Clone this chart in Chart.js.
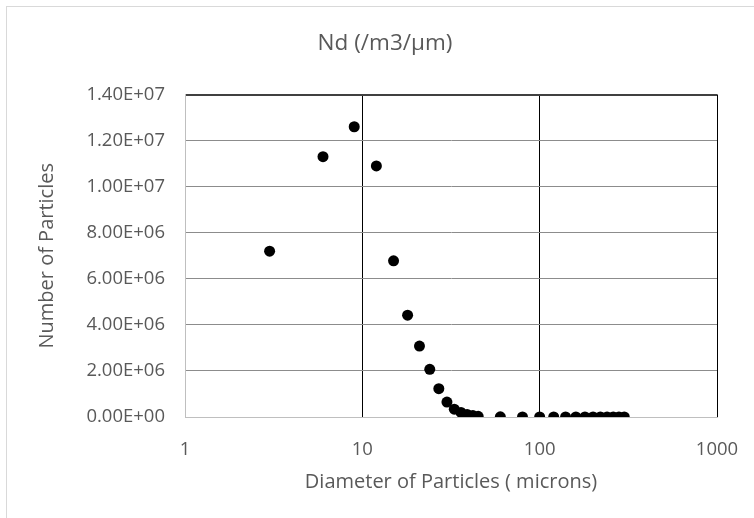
<!DOCTYPE html>
<html>
<head>
<meta charset="utf-8">
<script src="https://cdn.jsdelivr.net/npm/chart.js@4"></script>
<style>
  html, body { margin: 0; padding: 0; background: #fff; }
  canvas { display: block; }
</style>
</head>
<body>
<canvas id="ndChart" width="754" height="518"></canvas>
<script>
const diameters = [3, 6, 9, 12, 15, 18, 21, 24, 27, 30, 33, 36, 39, 42, 45, 60, 80, 100, 120, 140, 160, 180, 200, 220, 240, 260, 280, 300];
const counts = [7.2e6, 1.13e7, 1.26e7, 1.09e7, 6.78e6, 4.42e6, 3.08e6, 2.07e6, 1.23e6, 6.5e5, 3.4e5, 2.0e5, 1.1e5, 6e4, 3e4, 8e3, 2e3, 5e2, 1e2, 50, 20, 10, 5, 2, 1, 0, 0, 0];
const xTicks = [1, 10, 100, 1000];

const textColor = '#595959';
const fontFamily = '"Open Sans", sans-serif';

function sci(v) {
  const [m, e] = Number(v).toExponential(2).split('e');
  const sign = e[0] === '-' ? '-' : '+';
  return m + 'E' + sign + e.replace(/[+-]/, '').padStart(2, '0');
}

// light outer frame like the Excel chart box
const frame = {
  id: 'frame',
  beforeDraw(chart) {
    const ctx = chart.ctx;
    ctx.save();
    ctx.strokeStyle = '#d9d9d9';
    ctx.lineWidth = 1;
    ctx.strokeRect(6.5, 6.5, 800, 600);
    ctx.restore();
  }
};

new Chart(document.getElementById('ndChart'), {
  type: 'scatter',
  data: {
    datasets: [{
      label: 'Nd',
      data: diameters.map((d, i) => ({ x: d, y: counts[i] })),
      backgroundColor: '#000',
      borderWidth: 0,
      pointRadius: 5.5,
      pointHoverRadius: 5.5
    }]
  },
  options: {
    responsive: false,
    animation: false,
    layout: { padding: { left: 16, right: 0, top: 0, bottom: 0 } },
    plugins: {
      legend: { display: false },
      tooltip: { enabled: false },
      title: {
        display: true,
        text: 'Nd (/m3/μm)',
        color: textColor,
        font: { family: fontFamily, size: 22.5, weight: 'normal' },
        padding: { top: 30, bottom: 37.5 }
      }
    },
    scales: {
      x: {
        type: 'logarithmic',
        min: 1,
        max: 1000,
        afterBuildTicks: s => { s.ticks = xTicks.map(v => ({ value: v })); },
        afterFit: s => { s.height = 101; s.paddingLeft = 0; s.paddingRight = 0; },
        ticks: { color: textColor, font: { family: fontFamily, size: 18.5 }, padding: 22, maxRotation: 0, callback: v => String(v) },
        grid: { color: ctx => ctx.tick && ctx.tick.value === 1 ? 'rgba(0,0,0,0)' : '#000', drawTicks: false },
        border: { color: '#bfbfbf' },
        title: { display: true, text: 'Diameter of Particles ( microns)', color: textColor, font: { family: fontFamily, size: 20 }, padding: { top: 0, bottom: 24 } }
      },
      y: {
        min: 0,
        max: 1.4e7,
        afterFit: s => { s.width = 169; },
        ticks: { stepSize: 2e6, color: textColor, font: { family: fontFamily, size: 18.5 }, padding: 20, callback: v => sci(v) },
        grid: {
          color: ctx => ctx.tick.value === 0 ? 'rgba(0,0,0,0)' : (ctx.tick.value === 1.4e7 ? '#404040' : '#8c8c8c'),
          lineWidth: ctx => ctx.tick.value === 1.4e7 ? 2 : 1,
          drawTicks: false
        },
        border: { color: '#bfbfbf' },
        title: { display: true, text: 'Number of Particles', color: textColor, font: { family: fontFamily, size: 20 }, padding: { top: 19, bottom: 0 } }
      },
      y2: {
        position: 'right',
        display: true,
        afterFit: s => { s.width = 37; },
        ticks: { display: false },
        grid: { display: false },
        border: { display: false }
      }
    }
  },
  plugins: [frame]
});
</script>
</body>
</html>
